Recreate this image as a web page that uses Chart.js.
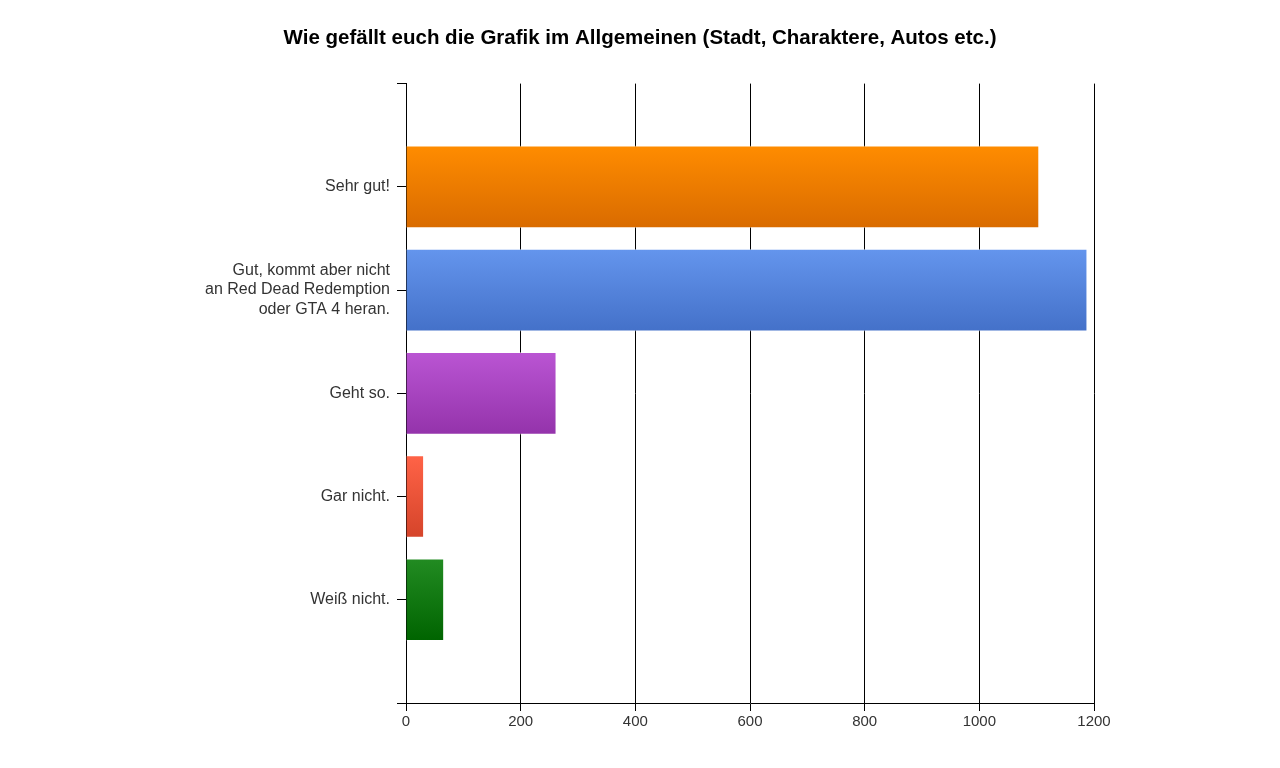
<!DOCTYPE html>
<html>
<head>
<meta charset="utf-8">
<script src="https://cdn.jsdelivr.net/npm/chart.js@4"></script>
<style>
  body { margin: 0; background: #fff; }
  #wrap { width: 1280px; height: 768px; }
</style>
</head>
<body>
<div id="wrap"><canvas id="barChart" width="1280" height="768"></canvas></div>
<script>
var titleText = 'Wie gefällt euch die Grafik im Allgemeinen (Stadt, Charaktere, Autos etc.)';
var categories = ['Sehr gut!', ['Gut, kommt aber nicht', 'an Red Dead Redemption', 'oder GTA 4 heran.'], 'Geht so.', 'Gar nicht.', 'Weiß nicht.'];
var votes = [1104, 1188, 262, 31, 66];
var xTicks = [0, 200, 400, 600, 800, 1000, 1200];
var topColors = ['#ff8c00', '#6495ed', '#ba55d3', '#ff6347', '#228b22'];
var bottomColors = ['#d96b00', '#4471c9', '#9433ab', '#d5442a', '#006400'];

// empty slot above and below the categories, like in the original
var labels = [''].concat(categories, ['']);
var data = [null].concat(votes, [null]);

function barFill(context) {
    var chart = context.chart;
    var i = context.dataIndex;
    if (!chart.chartArea || data[i] == null) return '#ccc';
    var y = chart.scales.y.getPixelForValue(i);
    var g = chart.ctx.createLinearGradient(0, y - 41, 0, y + 41);
    g.addColorStop(0, topColors[i - 1]);
    g.addColorStop(1, bottomColors[i - 1]);
    return g;
}

var font = '"Liberation Sans", Arial, sans-serif';

var ctx = document.getElementById('barChart').getContext('2d');
var myChart = new Chart(ctx, {
    type: 'bar',
    data: {
        labels: labels,
        datasets: [{
            data: data,
            backgroundColor: barFill,
            borderColor: 'rgba(255,255,255,0.45)',
            borderWidth: 1,
            borderSkipped: 'start',
            barThickness: 82
        }]
    },
    options: {
        indexAxis: 'y',
        responsive: false,
        animation: false,
        layout: { padding: 0 },
        plugins: {
            legend: { display: false },
            tooltip: { enabled: false },
            title: {
                display: true,
                text: titleText,
                color: '#000',
                font: { family: font, size: 20.5, weight: 'bold' },
                padding: { top: 26, bottom: 33 }
            }
        },
        scales: {
            x: {
                min: 0,
                max: 1200,
                afterFit: function (scale) { scale.height = 65; },
                afterBuildTicks: function (scale) {
                    scale.ticks = xTicks.map(function (v) { return { value: v }; });
                },
                border: { color: '#000', width: 1 },
                grid: { color: '#000', lineWidth: 1, tickLength: 8, drawTicks: true },
                ticks: {
                    color: '#333',
                    padding: 2,
                    font: { family: font, size: 15 },
                    callback: function (v) { return String(v); }
                }
            },
            y: {
                offset: false,
                afterFit: function (scale) { scale.width = 406; },
                border: { color: '#000', width: 1 },
                grid: { color: '#000', offset: false, drawOnChartArea: false, tickLength: 9, drawTicks: true },
                ticks: {
                    color: '#333',
                    padding: 7,
                    autoSkip: false,
                    font: { family: font, size: 16, lineHeight: 1.2 }
                }
            },
            // empty space on the right, keeps the title centred on the page
            yRight: {
                type: 'category',
                position: 'right',
                afterFit: function (scale) { scale.width = 186; },
                border: { display: false },
                grid: { display: false, drawTicks: false },
                ticks: { display: false }
            }
        }
    }
});
</script>
</body>
</html>
